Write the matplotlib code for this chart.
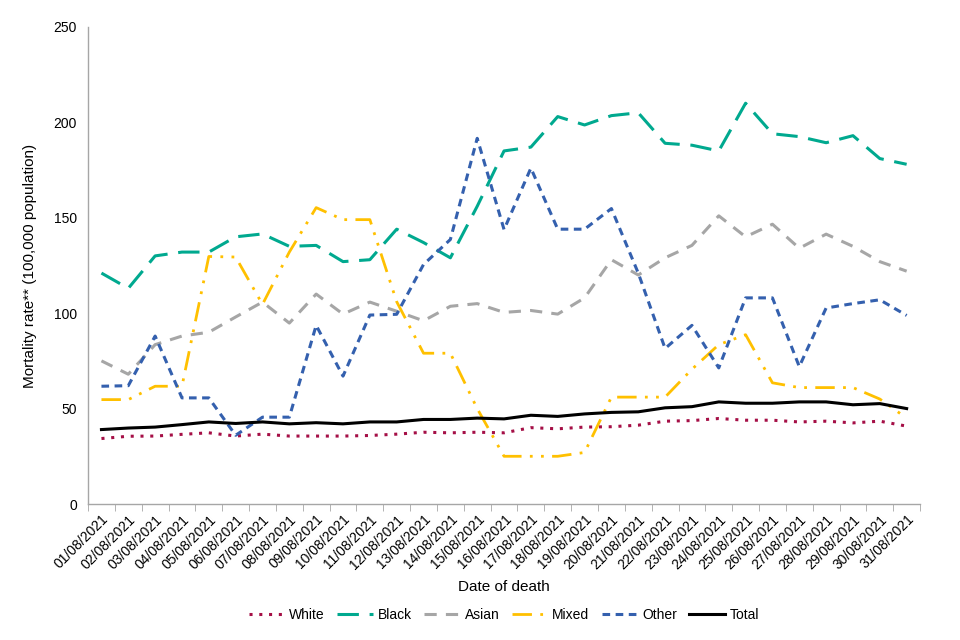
import matplotlib
matplotlib.use("Agg")
import matplotlib.pyplot as plt
import numpy as np

plt.rcParams['font.family'] = ['Liberation Sans', 'DejaVu Sans']

# Data
dates = [f"{d:02d}/08/2021" for d in range(1, 32)]

white = [34.3, 35.5, 35.6, 36.5, 37.3, 35.6, 36.6, 35.6, 35.6, 35.6, 35.9, 36.6, 37.6, 37.3, 37.6,
         37.3, 40.0, 39.4, 40.3, 40.5, 41.3, 43.4, 43.7, 44.8, 43.9, 43.9, 43.0, 43.4, 42.5, 43.4, 40.8]
black = [121, 113, 130, 132, 132, 140, 141.5, 135, 135.5, 127, 128, 144, 137, 129, 156,
         185, 187, 203, 198.6, 203.5, 205, 189, 188, 185, 210, 194, 192.5, 189.3, 193, 181, 178]
asian = [75, 68, 83.5, 88, 90, 98, 105.8, 94.8, 110, 99.5, 105.8, 101, 96, 103.6, 105,
         100.4, 101.4, 99.5, 108, 128, 120, 129, 135.5, 151, 140, 146.6, 134, 141.4, 135, 127, 122]
mixed = [54.7, 54.7, 61.7, 61.7, 129.7, 129.4, 104.6, 132, 155.3, 149, 149, 106, 79, 79, 50,
         25, 25, 25, 27, 56, 56, 56, 70.6, 83.5, 88.7, 63.5, 61, 61, 61, 55, 45]
other = [61.7, 62, 88, 55.6, 55.6, 36, 45.5, 45.5, 93.6, 67, 99, 99.4, 125.5, 138.6, 191.6,
         143.8, 176, 144, 144, 154.8, 121, 81.5, 93.6, 71.3, 108, 108, 72, 102.7, 105, 107, 98.8]
total = [39, 39.8, 40.3, 41.6, 43, 42.2, 43, 42, 42.6, 42, 43, 43, 44.3, 44.3, 45,
         44.6, 46.5, 45.9, 47.2, 48, 48.3, 50.4, 51, 53.5, 52.8, 52.8, 53.5, 53.5, 52, 52.6, 50]

series = [
    ("White", white, "#A50F46", dict(linestyle=(0, (1, 2.2)), linewidth=2.2)),
    ("Black", black, "#00A98F", dict(linestyle=(0, (7, 3.5)), linewidth=2.2)),
    ("Asian", asian, "#A6A6A6", dict(linestyle=(0, (4, 3)), linewidth=2.2)),
    ("Mixed", mixed, "#FFC000", dict(linestyle=(0, (7, 3, 1, 3, 1, 3)), linewidth=2.0)),
    ("Other", other, "#3460AE", dict(linestyle=(0, (2.5, 1.8)), linewidth=2.2)),
    ("Total", total, "#000000", dict(linestyle='-', linewidth=2.2)),
]

fig = plt.figure(figsize=(9.6, 6.4), dpi=100)
ax = fig.add_axes([0.0917, 0.2125, 0.8667, 0.7455])

x = np.arange(len(dates))
for name, vals, color, style in series:
    ax.plot(x, vals, color=color, label=name, **style)

ax.set_xlim(-0.5, len(dates) - 0.5)
ax.set_ylim(0, 250)
ax.set_yticks(np.arange(0, 251, 50))

# category labels at centres, tick marks at the boundaries
ax.set_xticks(x)
ax.set_xticklabels(dates, rotation=45, ha='right', rotation_mode='anchor', fontsize=10)
ax.tick_params(axis='x', which='major', length=0, pad=6)
ax.set_xticks(np.arange(-0.5, len(dates), 1), minor=True)
ax.tick_params(axis='x', which='minor', length=5, color='#A6A6A6', direction='out')
ax.tick_params(axis='y', length=0, labelsize=10, pad=8)

for side in ['top', 'right']:
    ax.spines[side].set_visible(False)
for side in ['left', 'bottom']:
    ax.spines[side].set_color('#A6A6A6')
    ax.spines[side].set_linewidth(1.0)

ax.set_xlabel('Date of death', fontsize=11, labelpad=6)
ax.set_ylabel('Mortality rate** (100,000 population)', fontsize=11, labelpad=12)

ax.legend(loc='center', bbox_to_anchor=(0.5, -0.232), ncol=6, frameon=False,
          fontsize=10, handlelength=2.6, handletextpad=0.3, columnspacing=0.9)

plt.savefig('out.png', dpi=100)
plt.close()
